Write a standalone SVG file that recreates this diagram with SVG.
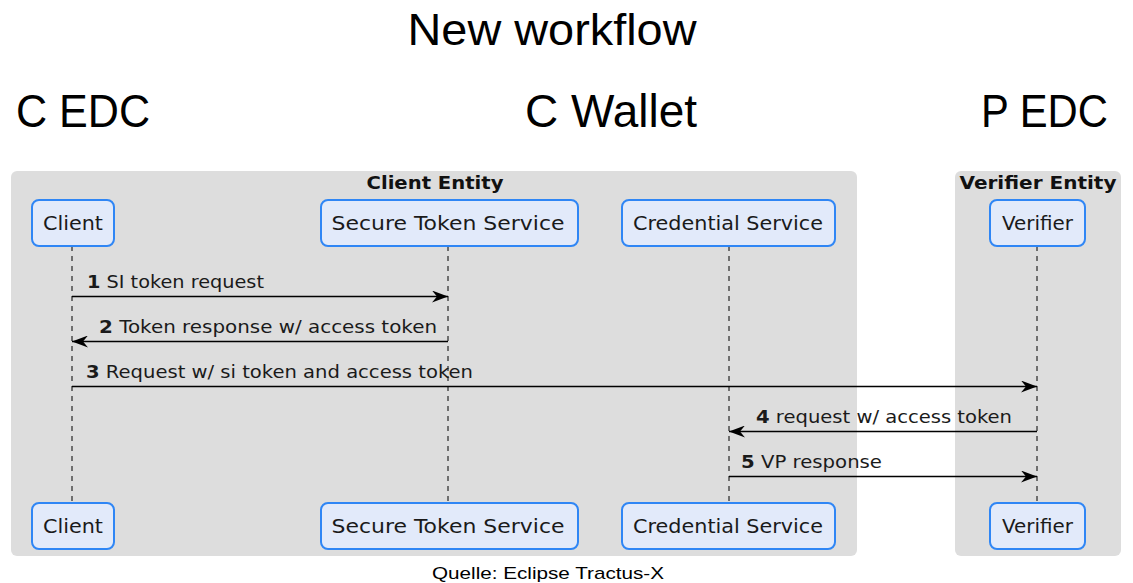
<svg xmlns="http://www.w3.org/2000/svg" width="1133" height="583" viewBox="0 0 1133 583">
<style>
.big{font-family:"Liberation Sans",Arial,sans-serif;fill:#000}
.grp{fill:#dddddd}
.gt{font-family:"DejaVu Sans",sans-serif;font-weight:bold;font-size:18px;fill:#111;text-anchor:middle}
.pbox{fill:#e2eafa;stroke:#2f86f5;stroke-width:2}
.pt{font-family:"DejaVu Sans",sans-serif;font-size:20px;fill:#1a1a1a;text-anchor:middle}
.life{stroke:#000;stroke-width:1;stroke-dasharray:5 5;fill:none}
.msg{stroke:#000;stroke-width:1.5;fill:none}
.mt{font-family:"DejaVu Sans",sans-serif;font-size:18px;fill:#1a1a1a}
.mt tspan.n{font-weight:bold}
</style>
<defs>
<marker id="ah" viewBox="0 0 16 12" refX="16" refY="6" markerWidth="16" markerHeight="12" markerUnits="userSpaceOnUse" orient="auto-start-reverse">
<path d="M0,0 L16,6 L0,12 L5,6 Z" fill="#000"/>
</marker>
</defs>
<rect width="1133" height="583" fill="#fff"/>
<text class="big" x="552" y="45" font-size="44" text-anchor="middle" textLength="289" lengthAdjust="spacingAndGlyphs">New workflow</text>
<text class="big" x="16" y="127" font-size="46" textLength="134" lengthAdjust="spacingAndGlyphs">C EDC</text>
<text class="big" x="525" y="127" font-size="46" textLength="172" lengthAdjust="spacingAndGlyphs">C Wallet</text>
<text class="big" x="981" y="127" font-size="46" textLength="127" lengthAdjust="spacingAndGlyphs">P EDC</text>

<g id="group-client-entity">
<rect class="grp" x="11" y="171" width="846" height="385" rx="6"/>
<text class="gt" x="435" y="189" textLength="137" lengthAdjust="spacingAndGlyphs">Client Entity</text>
</g>
<g id="group-verifier-entity">
<rect class="grp" x="955" y="171" width="166" height="385" rx="6"/>
<text class="gt" x="1038" y="189" textLength="157" lengthAdjust="spacingAndGlyphs">Verifier Entity</text>
</g>

<g id="lifelines">
<line class="life" x1="72" y1="246" x2="72" y2="503"/>
<line class="life" x1="448" y1="246" x2="448" y2="503"/>
<line class="life" x1="729" y1="246" x2="729" y2="503"/>
<line class="life" x1="1037" y1="246" x2="1037" y2="503"/>
</g>

<g id="client">
<rect class="pbox" x="32" y="200" width="82" height="46" rx="7"/>
<text class="pt" x="73" y="230" textLength="60" lengthAdjust="spacingAndGlyphs">Client</text>
<rect class="pbox" x="32" y="503" width="82" height="46" rx="7"/>
<text class="pt" x="73" y="533" textLength="60" lengthAdjust="spacingAndGlyphs">Client</text>
</g>
<g id="secure-token-service">
<rect class="pbox" x="321" y="200" width="257" height="46" rx="7"/>
<text class="pt" x="448" y="230" textLength="233" lengthAdjust="spacingAndGlyphs">Secure Token Service</text>
<rect class="pbox" x="321" y="503" width="257" height="46" rx="7"/>
<text class="pt" x="448" y="533" textLength="233" lengthAdjust="spacingAndGlyphs">Secure Token Service</text>
</g>
<g id="credential-service">
<rect class="pbox" x="622" y="200" width="213" height="46" rx="7"/>
<text class="pt" x="728" y="230" textLength="190" lengthAdjust="spacingAndGlyphs">Credential Service</text>
<rect class="pbox" x="622" y="503" width="213" height="46" rx="7"/>
<text class="pt" x="728" y="533" textLength="190" lengthAdjust="spacingAndGlyphs">Credential Service</text>
</g>
<g id="verifier">
<rect class="pbox" x="990" y="200" width="95" height="46" rx="7"/>
<text class="pt" x="1037.5" y="230" textLength="71" lengthAdjust="spacingAndGlyphs">Verifier</text>
<rect class="pbox" x="990" y="503" width="95" height="46" rx="7"/>
<text class="pt" x="1037.5" y="533" textLength="71" lengthAdjust="spacingAndGlyphs">Verifier</text>
</g>

<g id="connectors">
<line class="msg" x1="72" y1="296.5" x2="448" y2="296.5" marker-end="url(#ah)"/>
<text class="mt" x="87" y="287.5" textLength="177" lengthAdjust="spacingAndGlyphs"><tspan class="n">1</tspan> SI token request</text>
<line class="msg" x1="448" y1="341.5" x2="72" y2="341.5" marker-end="url(#ah)"/>
<text class="mt" x="99" y="332.5" textLength="338" lengthAdjust="spacingAndGlyphs"><tspan class="n">2</tspan> Token response w/ access token</text>
<line class="msg" x1="72" y1="386.5" x2="1037" y2="386.5" marker-end="url(#ah)"/>
<text class="mt" x="86" y="377.5" textLength="387" lengthAdjust="spacingAndGlyphs"><tspan class="n">3</tspan> Request w/ si token and access token</text>
<line class="msg" x1="1037" y1="431.5" x2="729" y2="431.5" marker-end="url(#ah)"/>
<text class="mt" x="756" y="422.5" textLength="256" lengthAdjust="spacingAndGlyphs"><tspan class="n">4</tspan> request w/ access token</text>
<line class="msg" x1="729" y1="476.5" x2="1037" y2="476.5" marker-end="url(#ah)"/>
<text class="mt" x="741" y="467.5" textLength="141" lengthAdjust="spacingAndGlyphs"><tspan class="n">5</tspan> VP response</text>
</g>

<text class="big" x="548" y="579" font-size="17" text-anchor="middle" textLength="232" lengthAdjust="spacingAndGlyphs">Quelle: Eclipse Tractus-X</text>
</svg>
